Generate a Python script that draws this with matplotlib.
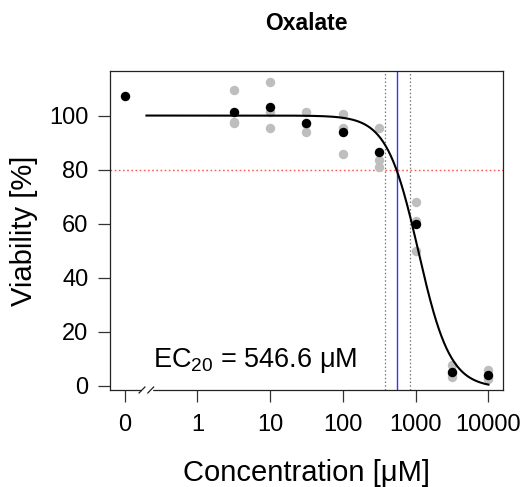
import numpy as np
import matplotlib
matplotlib.use("Agg")
import matplotlib.pyplot as plt

plt.rcParams["font.family"] = ["Liberation Sans", "DejaVu Sans"]
plt.rcParams["mathtext.fontset"] = "custom"
plt.rcParams["mathtext.rm"] = "Liberation Sans"
plt.rcParams["mathtext.it"] = "Liberation Sans:italic"
plt.rcParams["mathtext.bf"] = "Liberation Sans:bold"

# tested concentrations (uM); 0 is the control, drawn one decade below 1
CONC = [0, 3.162, 10, 31.62, 100, 316.2, 1000, 3162, 10000]
MEANS = [107.3, 101.4, 103.0, 97.3, 93.8, 86.6, 59.7, 5.1, 3.8]
REPLICATES = [
    [],
    [109.3, 97.5, 97.4],
    [112.4, 95.3, 101.4],
    [101.2, 93.8, 96.9],
    [100.6, 95.3, 85.9],
    [95.5, 83.5, 81.0],
    [67.9, 60.9, 49.9],
    [7.6, 3.3, 4.5],
    [5.7, 2.6, 3.1],
]

TICK_LABELS = ["0", "1", "10", "100", "1000", "10000"]
TICK_CONC = [0, 1, 10, 100, 1000, 10000]

# fitted log-logistic model
TOP = 100.0
BOTTOM = -0.8
EC50 = 1093.0
HILL = 2.0
CURVE_RANGE = (0.2, 10000)

EC20 = 546.6
EC20_CI = (382.0, 829.0)
THRESHOLD = 80


def to_x(c):
    c = np.asarray(c, dtype=float)
    return np.where(c > 0, np.log10(np.where(c > 0, c, 1.0)), -1.0)


def model(c):
    return BOTTOM + (TOP - BOTTOM) / (1 + (c / EC50) ** HILL)


fig = plt.figure(figsize=(5.2, 4.87), dpi=100)
ax = fig.add_axes([0.2115, 0.1992, 0.7558, 0.6556])

# replicates
for c, reps in zip(CONC, REPLICATES):
    if reps:
        ax.plot(np.full(len(reps), to_x(c)), reps, "o", color="#bebebe",
                markersize=6.8, markeredgewidth=0, zorder=2)

cc = np.logspace(np.log10(CURVE_RANGE[0]), np.log10(CURVE_RANGE[1]), 400)
ax.plot(np.log10(cc), model(cc), color="black", lw=1.5, zorder=3)

ax.plot(to_x(CONC), MEANS, "o", color="black", markersize=6.8,
        markeredgewidth=0, zorder=4)

ax.axhline(THRESHOLD, color="#ff5555", lw=1.0, ls=(0, (1.2, 1.8)), zorder=1)
for v in EC20_CI:
    ax.axvline(np.log10(v), color="#777777", lw=0.9, ls=(0, (1.2, 1.8)), zorder=1)
ax.axvline(np.log10(EC20), color="#3333ff", lw=1.0, zorder=1)

ax.set_xlim(-1.2, 4.2)
ax.set_ylim(-1.6, 116.6)
ax.set_xticks(to_x(TICK_CONC))
ax.set_xticklabels(TICK_LABELS)
ax.set_yticks([0, 20, 40, 60, 80, 100])

for s in ax.spines.values():
    s.set_linewidth(0.9)
    s.set_color("#222222")
ax.tick_params(direction="out", length=8.6, width=0.9, color="#333333",
               labelsize=17, pad=7)
ax.tick_params(axis="x", pad=9)

# axis break marks
ax.plot([-0.75, -0.64], [-1.6, -1.6], color="white", lw=2.5,
        clip_on=False, zorder=5)
for bx in (-0.76, -0.64):
    ax.plot([bx - 0.04, bx + 0.04], [-2.7, -0.5], color="#222222", lw=0.9,
            clip_on=False, zorder=6)

ax.set_xlabel("Concentration [μM]", fontsize=21, labelpad=16)
ax.set_ylabel("Viability [%]", fontsize=21, labelpad=8)

ax.text(0.369, 0.073, r"$\mathrm{EC}_{20}$ = 546.6 μM", transform=ax.transAxes,
        ha="center", va="baseline", fontsize=19.5)

fig.text(306 / 520, 1 - 24 / 487, "Oxalate", ha="center", va="center",
         fontsize=16.5, fontweight="bold")

fig.savefig("out.png", dpi=100)
